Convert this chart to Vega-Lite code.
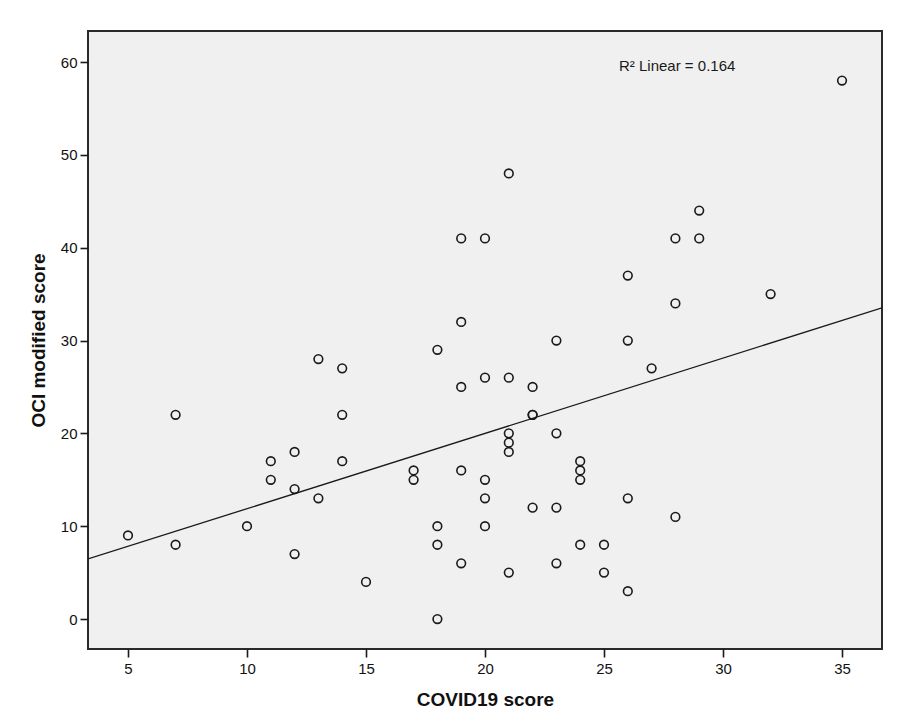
{
  "$schema": "https://vega.github.io/schema/vega-lite/v6.json",
  "width": 794,
  "height": 618,
  "autosize": {"type": "none"},
  "padding": {"left": 88, "top": 31, "right": 20, "bottom": 75},
  "background": "white",
  "config": {
    "font": "Liberation Sans",
    "view": {"fill": "#f0f0f0", "stroke": "#2a2a2a", "strokeWidth": 2},
    "axis": {
      "domain": false,
      "grid": false,
      "tickColor": "#1a1a1a",
      "tickSize": 8,
      "tickWidth": 1.6,
      "labelColor": "#111111",
      "labelFont": "Liberation Sans",
      "labelFontSize": 15,
      "titleFont": "Liberation Sans",
      "titleFontSize": 19,
      "titleFontWeight": "bold",
      "titleColor": "#111111"
    }
  },
  "datasets": {
    "scores": [
      {"covid": 5, "oci": 9}, {"covid": 7, "oci": 22}, {"covid": 7, "oci": 8},
      {"covid": 10, "oci": 10}, {"covid": 11, "oci": 17}, {"covid": 11, "oci": 15},
      {"covid": 12, "oci": 18}, {"covid": 12, "oci": 14}, {"covid": 12, "oci": 7},
      {"covid": 13, "oci": 28}, {"covid": 13, "oci": 13}, {"covid": 14, "oci": 27},
      {"covid": 14, "oci": 22}, {"covid": 14, "oci": 17}, {"covid": 15, "oci": 4},
      {"covid": 17, "oci": 16}, {"covid": 17, "oci": 15}, {"covid": 18, "oci": 29},
      {"covid": 18, "oci": 10}, {"covid": 18, "oci": 8}, {"covid": 18, "oci": 0},
      {"covid": 19, "oci": 41}, {"covid": 19, "oci": 32}, {"covid": 19, "oci": 25},
      {"covid": 19, "oci": 16}, {"covid": 19, "oci": 6}, {"covid": 20, "oci": 41},
      {"covid": 20, "oci": 26}, {"covid": 20, "oci": 15}, {"covid": 20, "oci": 13},
      {"covid": 20, "oci": 10}, {"covid": 21, "oci": 48}, {"covid": 21, "oci": 26},
      {"covid": 21, "oci": 20}, {"covid": 21, "oci": 19}, {"covid": 21, "oci": 18},
      {"covid": 21, "oci": 5}, {"covid": 22, "oci": 25}, {"covid": 22, "oci": 22},
      {"covid": 22, "oci": 22}, {"covid": 22, "oci": 12}, {"covid": 23, "oci": 30},
      {"covid": 23, "oci": 20}, {"covid": 23, "oci": 12}, {"covid": 23, "oci": 6},
      {"covid": 24, "oci": 17}, {"covid": 24, "oci": 16}, {"covid": 24, "oci": 15},
      {"covid": 24, "oci": 8}, {"covid": 25, "oci": 8}, {"covid": 25, "oci": 5},
      {"covid": 26, "oci": 37}, {"covid": 26, "oci": 30}, {"covid": 26, "oci": 13},
      {"covid": 26, "oci": 3}, {"covid": 27, "oci": 27}, {"covid": 28, "oci": 41},
      {"covid": 28, "oci": 34}, {"covid": 28, "oci": 11}, {"covid": 29, "oci": 44},
      {"covid": 29, "oci": 41}, {"covid": 32, "oci": 35}, {"covid": 35, "oci": 58}
    ],
    "annotation": [{"label": "R² Linear = 0.164", "covid": 25.63, "oci": 59.03}]
  },
  "encoding": {
    "x": {
      "field": "covid",
      "type": "quantitative",
      "title": "COVID19 score",
      "scale": {"domain": [3.32, 36.68], "nice": false, "zero": false},
      "axis": {"values": [5, 10, 15, 20, 25, 30, 35], "labelPadding": 4, "titlePadding": 14}
    },
    "y": {
      "field": "oci",
      "type": "quantitative",
      "title": "OCI modified score",
      "scale": {"domain": [-3.23, 63.34], "nice": false, "zero": false},
      "axis": {"values": [0, 10, 20, 30, 40, 50, 60], "labelPadding": 3, "titlePadding": 12}
    }
  },
  "layer": [
    {
      "data": {"name": "scores"},
      "transform": [{"regression": "oci", "on": "covid", "extent": [3.32, 36.68]}],
      "mark": {"type": "line", "color": "#1a1a1a", "strokeWidth": 1.3, "clip": true}
    },
    {
      "data": {"name": "scores"},
      "mark": {"type": "point", "filled": false, "shape": "circle", "size": 75, "stroke": "#1a1a1a", "strokeWidth": 1.6, "opacity": 1}
    },
    {
      "data": {"name": "annotation"},
      "mark": {"type": "text", "align": "left", "baseline": "alphabetic", "fontSize": 15, "color": "#1a1a1a", "font": "Liberation Sans"},
      "encoding": {
        "text": {"field": "label", "type": "nominal"}
      }
    }
  ]
}
